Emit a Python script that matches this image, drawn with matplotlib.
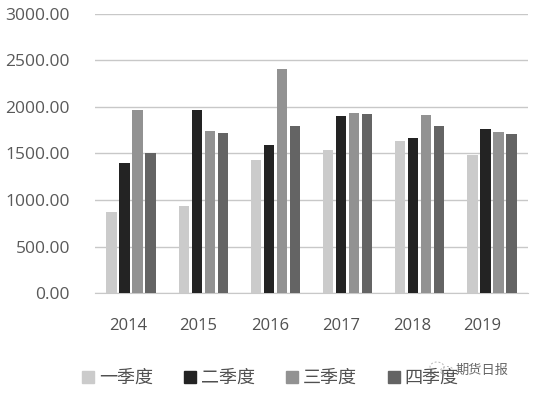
import matplotlib
matplotlib.use("Agg")
import matplotlib.pyplot as plt
from matplotlib.patches import Patch, Ellipse
import numpy as np

years = ["2014", "2015", "2016", "2017", "2018", "2019"]
q1 = [872, 936, 1430, 1537, 1634, 1484]
q2 = [1398, 1967, 1591, 1902, 1666, 1763]
q3 = [1967, 1741, 2407, 1934, 1913, 1730]
q4 = [1505, 1720, 1795, 1923, 1795, 1709]
names = ["一季度", "二季度", "三季度", "四季度"]
colors = ["#cbcbcb", "#232323", "#929292", "#646464"]
yticks = [0, 500, 1000, 1500, 2000, 2500, 3000]
label_pos = [-0.04, 0.93, 1.925, 2.91, 3.89, 4.86]

W, H = 533, 394
plt.rcParams['font.family'] = ['Open Sans', 'Noto Sans CJK SC', 'DejaVu Sans']
fig = plt.figure(figsize=(W / 100, H / 100), dpi=100)
ax = fig.add_axes([95 / W, 1 - 293.3 / H, 433 / W, (293.3 - 13.5) / H])

x = np.arange(len(years))
for i, (vals, c) in enumerate(zip([q1, q2, q3, q4], colors)):
    ax.bar(x + (i - 1.5) * 0.18, vals, width=0.145, color=c, zorder=3)

ax.set_xlim(-0.5, 5.5)
ax.set_ylim(0, 3000)
ax.set_yticks(yticks)
ax.set_yticklabels([f"{v:.2f}" for v in yticks], fontsize=12.5, color="#595959")
ax.set_xticks(label_pos)
ax.set_xticklabels(years, fontsize=12, color="#505050")
ax.tick_params(axis='both', length=0)
ax.tick_params(axis='y', pad=18)
ax.tick_params(axis='x', pad=18)
ax.grid(axis='y', color="#c8c8c8", lw=1, zorder=0)
for s in ['top', 'right', 'left']:
    ax.spines[s].set_visible(False)
ax.spines['bottom'].set_color("#c8c8c8")

handles = [Patch(color=c, label=n) for c, n in zip(colors, names)]
fig.legend(handles=handles, loc='center left', bbox_to_anchor=(66 / W, 1 - 378 / H), ncol=4,
           frameon=False, handlelength=0.65, handleheight=0.65,
           handletextpad=0.28, columnspacing=1.72, labelcolor="#505050",
           prop={'family': ['Noto Sans CJK SC'], 'size': 13, 'weight': 'light'})

fig.text(456 / W, 1 - 370 / H, "期货日报", fontsize=9.5, color="#666666",
         family=['Noto Sans CJK SC'], va='center', ha='left')
for cx, cy, w, h in [(437, 367, 14, 10), (447, 371, 13, 9)]:
    fig.add_artist(Ellipse((cx / W, 1 - cy / H), w / W, h / H, fill=False, ec="#b5b5b5",
                           lw=0.7, ls=(0, (2, 2)), transform=fig.transFigure))
fig.savefig("out.png", dpi=100)
